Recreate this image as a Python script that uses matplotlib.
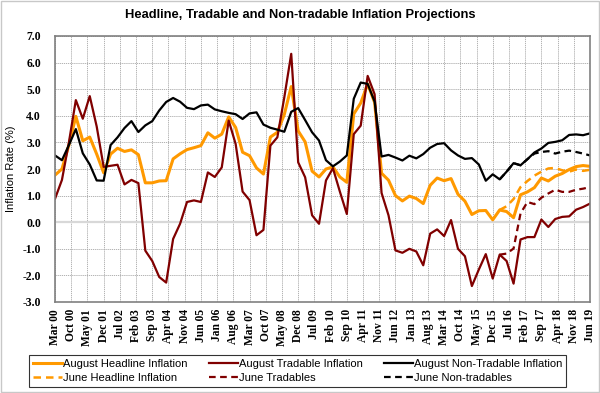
import matplotlib
matplotlib.use("Agg")
import matplotlib.pyplot as plt
from matplotlib.patches import Rectangle
import pandas as pd

# quarterly data, Mar 00 .. Jun 19
quarters = pd.period_range("2000Q1", "2019Q2", freq="Q")

aug_headline = [
    1.77, 2.0, 2.9, 3.98, 3.06, 3.2, 2.56, 1.86, 2.56, 2.78,
    2.66, 2.72, 2.54, 1.48, 1.48, 1.55, 1.56, 2.38, 2.57, 2.73,
    2.8, 2.88, 3.36, 3.16, 3.31, 3.96, 3.56, 2.63, 2.5, 2.04,
    1.81, 3.2, 3.38, 4.05, 5.1, 3.43, 3.02, 1.92, 1.7, 2.0,
    2.08, 1.7, 1.5, 4.07, 4.48, 5.2, 4.5, 1.84, 1.58, 1.0,
    0.8, 0.98, 0.89, 0.7, 1.39, 1.66, 1.56, 1.64, 1.05, 0.79,
    0.29, 0.43, 0.44, 0.09, 0.46, 0.4, 0.17, 1.03, 1.14, 1.3,
    1.66, 1.55, 1.73, 1.83, 1.98, 2.09, 2.13, 2.1,
]
aug_tradable = [
    0.88, 1.59, 3.0, 4.59, 3.89, 4.74, 3.6, 2.08, 2.12, 2.16,
    1.42, 1.59, 1.47, -1.07, -1.46, -2.06, -2.27, -0.63, -0.06, 0.76,
    0.82, 0.76, 1.87, 1.7, 2.06, 3.82, 2.94, 1.15, 0.83, -0.49,
    -0.29, 2.88, 3.19, 4.69, 6.33, 2.25, 1.69, 0.26, -0.06, 1.57,
    2.03, 1.15, 0.31, 3.31, 3.63, 5.5, 4.81, 1.1, 0.26, -1.06,
    -1.15, -1.0, -1.1, -1.62, -0.43, -0.27, -0.52, 0.08, -1.0, -1.28,
    -2.4, -1.78, -1.2, -2.12, -1.22, -1.46, -2.31, -0.65, -0.56, -0.56,
    0.1, -0.18, 0.12, 0.2, 0.22, 0.47, 0.57, 0.7,
]
aug_nontradable = [
    2.51, 2.33, 2.9, 3.5, 2.59, 2.17, 1.57, 1.56, 2.9, 3.19,
    3.54, 3.8, 3.39, 3.64, 3.8, 4.2, 4.52, 4.67, 4.53, 4.3,
    4.25, 4.39, 4.42, 4.24, 4.17, 4.11, 4.06, 3.88, 4.09, 4.13,
    3.67, 3.55, 3.48, 3.4, 4.15, 4.29, 3.84, 3.38, 3.07, 2.33,
    2.1, 2.28, 2.51, 4.64, 5.25, 5.2, 4.53, 2.47, 2.53, 2.43,
    2.32, 2.5, 2.4, 2.56, 2.8, 2.94, 2.97, 2.7, 2.51, 2.38,
    2.41, 2.17, 1.56, 1.8, 1.61, 1.9, 2.22, 2.14, 2.37, 2.62,
    2.77, 2.98, 3.02, 3.08, 3.28, 3.3, 3.27, 3.34,
]

# June projections start in Mar 16
june_start = 64
june_headline = [0.46, 0.6, 0.87, 1.32, 1.55, 1.75, 1.9, 2.02, 2.04, 1.95, 1.9, 1.98, 1.93, 1.97]
june_tradables = [-1.22, -1.18, -0.99, 0.33, 0.76, 0.68, 0.92, 1.08, 1.22, 1.14, 1.14, 1.22, 1.26, 1.32]
june_nontradables = [1.61, 1.9, 2.22, 2.14, 2.37, 2.58, 2.64, 2.67, 2.58, 2.65, 2.69, 2.64, 2.58, 2.51]

tick_labels = [
    "Mar 00", "Oct 00", "May 01", "Dec 01", "Jul 02", "Feb 03", "Sep 03",
    "Apr 04", "Nov 04", "Jun 05", "Jan 06", "Aug 06", "Mar 07", "Oct 07",
    "May 08", "Dec 08", "Jul 09", "Feb 10", "Sep 10", "Apr 11", "Nov 11",
    "Jun 12", "Jan 13", "Aug 13", "Mar 14", "Oct 14", "May 15", "Dec 15",
    "Jul 16", "Feb 17", "Sep 17", "Apr 18", "Nov 18", "Jun 19",
]

# months since Mar 00
x = [3 * i for i in range(len(quarters))]
xj = x[june_start:]

ORANGE = "#ff9900"
RED = "#800000"

fig = plt.figure(figsize=(6.0, 3.93), dpi=100)
ax = fig.add_axes([55 / 600, 1 - 302 / 393, 535 / 600, 266 / 393])

h1, = ax.plot(x, aug_headline, color=ORANGE, lw=2.2, label="August Headline Inflation")
h2, = ax.plot(x, aug_tradable, color=RED, lw=1.6, label="August Tradable Inflation")
h3, = ax.plot(x, aug_nontradable, color="black", lw=1.6, label="August Non-Tradable Inflation")
h4, = ax.plot(xj, june_headline, color=ORANGE, lw=1.8, ls=(0, (3, 2)), label="June Headline Inflation")
h5, = ax.plot(xj, june_tradables, color=RED, lw=1.6, ls=(0, (3, 2)), label="June Tradables")
h6, = ax.plot(xj, june_nontradables, color="black", lw=1.6, ls=(0, (3, 2)), label="June Non-tradables")

ax.axhline(0, color="#d8d8d8", lw=1.6, zorder=1)

ax.set_xlim(0, 231)
ax.set_ylim(-3, 7)
ax.set_xticks(range(0, 232, 7))
ax.set_xticklabels(tick_labels, rotation=90, fontsize=8.3, fontweight="bold",
                   family="Liberation Serif")
ax.set_yticks(range(-3, 8))
ax.set_yticklabels([f"{v:.1f}" for v in range(-3, 8)], fontsize=8.5,
                   fontweight="bold", family="Liberation Serif")
ax.tick_params(length=0, pad=5)
ax.tick_params(axis="y", pad=10)
ax.grid(True, color="#a6a6a6", lw=0.6, ls=(0, (1.5, 1)))
ax.set_axisbelow(True)
for s in ax.spines.values():
    s.set_color("#808080")
    s.set_linewidth(1.2)

ax.set_ylabel("Inflation Rate (%)", fontsize=8, family="Liberation Sans", labelpad=5)

fig.text(0.5, 1 - 15 / 393, "Headline, Tradable and Non-tradable Inflation Projections",
         ha="center", va="center", fontsize=9.3, fontweight="bold", family="Liberation Sans")

leg = fig.legend(handles=[h1, h4, h2, h5, h3, h6], ncol=3, loc="lower left",
                 bbox_to_anchor=(29 / 600, 6 / 393, 537 / 600, 35 / 393), mode="expand",
                 prop={"family": "Liberation Sans", "size": 8}, frameon=True,
                 fancybox=False, edgecolor="black", handlelength=2.6, handletextpad=0.1,
                 borderpad=0.35, labelspacing=0.35, borderaxespad=0, columnspacing=1.0)
leg.get_frame().set_linewidth(0.8)

# light border round the chart
fig.patches.append(Rectangle((0.002, 0.002), 0.996, 0.996, transform=fig.transFigure,
                             fill=False, edgecolor="#c8c8c8", lw=1))

fig.savefig("out.png", dpi=100)
